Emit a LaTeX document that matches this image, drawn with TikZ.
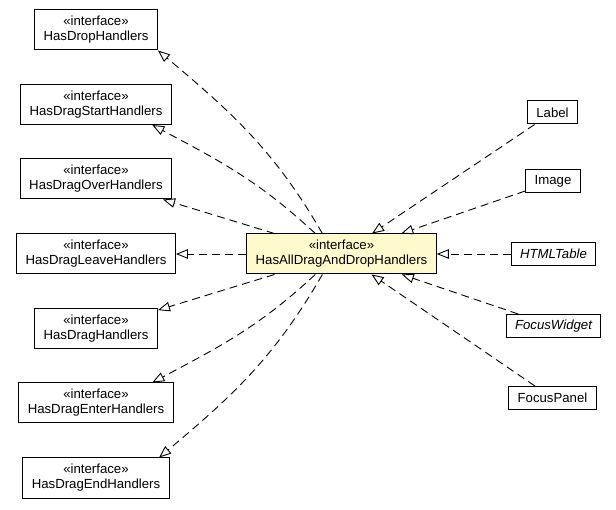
\documentclass[tikz,border=0pt]{standalone}
\usepackage{fontspec}
\setmainfont{Liberation Sans}
\usetikzlibrary{arrows.meta}
\definecolor{lemon}{RGB}{255,250,205}

\begin{document}
\begin{tikzpicture}[x=1pt,y=1pt,
    font=\fontsize{13.2}{15}\selectfont,
    iface/.style={draw,line width=1pt,fill=white,align=center,inner xsep=9pt,minimum height=40pt},
    cls/.style={draw,line width=1pt,fill=white,inner xsep=9pt,minimum height=23pt},
    realize/.style={dash pattern=on 8pt off 5pt,line width=0.9pt,-{Triangle[open,length=12pt,width=9.5pt]}}]
    \useasboundingbox (0,0) rectangle (616,509);

    % central interface
    \node[iface,fill=lemon] (hub) at (341.5,255) {«interface»\\HasAllDragAndDropHandlers};

    % super interfaces (left column)
    \node[iface] (drop) at (96,479) {«interface»\\HasDropHandlers};
    \node[iface] (dragstart) at (96,404.5) {«interface»\\HasDragStartHandlers};
    \node[iface] (dragover) at (96,330) {«interface»\\HasDragOverHandlers};
    \node[iface] (dragleave) at (96,255) {«interface»\\HasDragLeaveHandlers};
    \node[iface] (drag) at (96,180) {«interface»\\HasDragHandlers};
    \node[iface] (dragenter) at (96,106) {«interface»\\HasDragEnterHandlers};
    \node[iface] (dragend) at (96,31) {«interface»\\HasDragEndHandlers};

    % implementing classes (right column)
    \node[cls] (label) at (552.5,396.5) {Label};
    \node[cls] (image) at (553,327.5) {Image};
    \node[cls] (htmltable) at (553.5,255) {\itshape HTMLTable};
    \node[cls] (focuswidget) at (553.5,183) {\itshape FocusWidget};
    \node[cls] (focuspanel) at (552.5,111) {FocusPanel};

    % hub extends the left ones
    \draw[realize] (hub.133) to[out=120,in=-40] (drop.south east);
    \draw[realize] (hub.142) to[out=137,in=-28] (dragstart.-20);
    \draw[realize] (hub) -- (dragover);
    \draw[realize] (hub) -- (dragleave);
    \draw[realize] (hub) -- (drag);
    \draw[realize] (hub.-142) to[out=-137,in=28] (dragenter.20);
    \draw[realize] (hub.-133) to[out=-120,in=40] (dragend.18);

    % right ones implement hub
    \draw[realize] (label) -- (hub);
    \draw[realize] (image) -- (hub);
    \draw[realize] (htmltable) -- (hub);
    \draw[realize] (focuswidget) -- (hub);
    \draw[realize] (focuspanel) -- (hub);
\end{tikzpicture}
\end{document}
